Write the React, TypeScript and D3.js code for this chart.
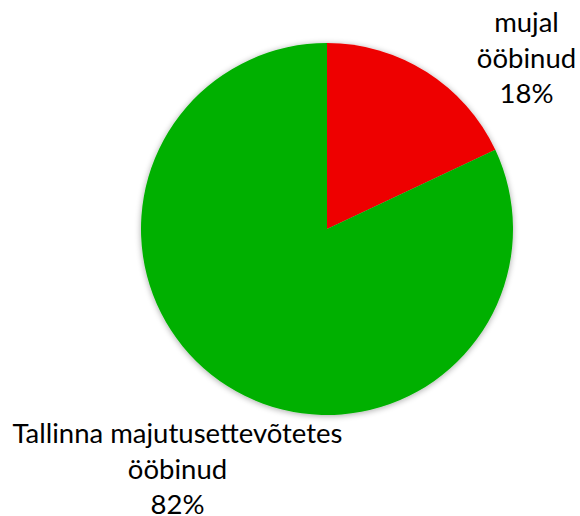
import React from "react";
import * as d3 from "d3";

const categories = ["mujal ööbinud", "Tallinna majutusettevõtetes ööbinud"];
const values = [18, 82];
const colors = ["#EE0000", "#00B000"];
const labelLines = [
  ["mujal", "ööbinud", "18%"],
  ["Tallinna majutusettevõtetes", "ööbinud", "82%"],
];

const W = 580;
const H = 516;
const cx = 327;
const cy = 229;
const R = 186;

export default function App() {
  const pie = d3.pie<number>().sort(null).value((d) => d)(values);
  const arc = d3.arc<d3.PieArcDatum<number>>().innerRadius(0).outerRadius(R);
  const labelPos = [
    { x: 526.5, y: 32 },
    { x: 177.5, y: 443 },
  ];
  const lineH = 35.5;
  return (
    <svg
      width={W}
      height={H}
      style={{ position: "absolute", left: 0, top: 0 }}
      fontFamily="Lato, 'Open Sans', sans-serif"
    >
      <defs>
        <filter id="sh" x="-20%" y="-20%" width="140%" height="140%">
          <feGaussianBlur in="SourceAlpha" stdDeviation="3" />
          <feOffset dx="0" dy="1" result="b" />
          <feComponentTransfer>
            <feFuncA type="linear" slope="0.35" />
          </feComponentTransfer>
          <feMerge>
            <feMergeNode />
            <feMergeNode in="SourceGraphic" />
          </feMerge>
        </filter>
      </defs>
      <rect width={W} height={H} fill="#fff" />
      <g transform={`translate(${cx},${cy})`} filter="url(#sh)">
        {pie.map((p, i) => (
          <path key={categories[i]} d={arc(p) || ""} fill={colors[i]} />
        ))}
      </g>
      {labelLines.map((lines, i) => (
        <text
          key={i}
          textAnchor="middle"
          fontSize={27.5}
          fill="#000"
        >
          {lines.map((l, j) => (
            <tspan key={j} x={labelPos[i].x} y={labelPos[i].y + j * lineH}>
              {l}
            </tspan>
          ))}
        </text>
      ))}
    </svg>
  );
}
